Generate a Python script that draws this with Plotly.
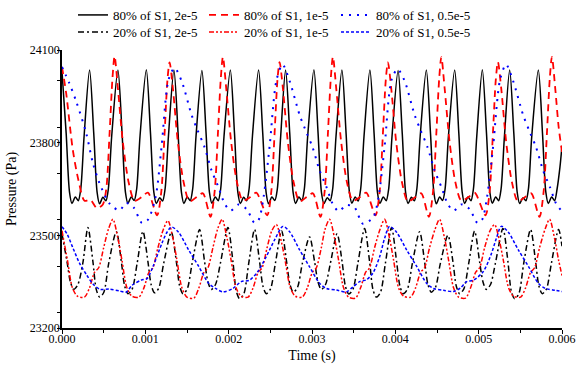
import plotly.graph_objects as go

# ---------------- data (time in ms, pressure in Pa) ----------------
# 80% of S1, 2e-5 (black solid)
bs_t = [0, 0.05, 0.09, 0.12, 0.16, 0.195, 0.225, 0.265,
        0.331, 0.381, 0.421, 0.451, 0.491, 0.526, 0.556, 0.596,
        0.671, 0.721, 0.761, 0.791, 0.831, 0.866, 0.896, 0.936,
        1.012, 1.062, 1.102, 1.132, 1.172, 1.207, 1.237, 1.277,
        1.343, 1.393, 1.433, 1.463, 1.503, 1.538, 1.568, 1.608,
        1.679, 1.729, 1.769, 1.799, 1.839, 1.874, 1.904, 1.944,
        2.020, 2.070, 2.110, 2.140, 2.180, 2.215, 2.245, 2.285,
        2.359, 2.409, 2.449, 2.479, 2.519, 2.554, 2.584, 2.624,
        2.683, 2.733, 2.773, 2.803, 2.843, 2.878, 2.908, 2.948,
        3.023, 3.073, 3.113, 3.143, 3.183, 3.218, 3.248, 3.288,
        3.359, 3.409, 3.449, 3.479, 3.519, 3.554, 3.584, 3.624,
        3.695, 3.745, 3.785, 3.815, 3.855, 3.890, 3.920, 3.960,
        4.033, 4.083, 4.123, 4.153, 4.193, 4.228, 4.258, 4.298,
        4.372, 4.422, 4.462, 4.492, 4.532, 4.567, 4.597, 4.637,
        4.712, 4.762, 4.802, 4.832, 4.872, 4.907, 4.937, 4.977,
        5.044, 5.094, 5.134, 5.164, 5.204, 5.239, 5.269, 5.309,
        5.372, 5.422, 5.462, 5.492, 5.532, 5.567, 5.597, 5.637,
        5.716, 5.766, 5.806, 5.836, 5.876, 5.911, 5.941, 5.975, 6.0]
bs_p = [24030, 23830, 23640, 23603, 23624, 23612, 23650, 23820,
        24035, 23830, 23640, 23602, 23623, 23612, 23650, 23820,
        24035, 23830, 23640, 23604, 23624, 23613, 23650, 23820,
        24036, 23830, 23640, 23603, 23622, 23611, 23650, 23820,
        24035, 23830, 23640, 23603, 23624, 23612, 23650, 23820,
        24034, 23830, 23640, 23604, 23624, 23612, 23650, 23820,
        24035, 23830, 23640, 23603, 23623, 23612, 23650, 23820,
        24035, 23830, 23640, 23602, 23624, 23613, 23650, 23820,
        24035, 23830, 23640, 23603, 23624, 23612, 23650, 23820,
        24036, 23830, 23640, 23603, 23622, 23612, 23650, 23820,
        24035, 23830, 23640, 23604, 23624, 23611, 23650, 23820,
        24035, 23830, 23640, 23603, 23624, 23612, 23650, 23820,
        24034, 23830, 23640, 23603, 23623, 23612, 23650, 23820,
        24035, 23830, 23640, 23602, 23624, 23613, 23650, 23820,
        24035, 23830, 23640, 23603, 23624, 23612, 23650, 23820,
        24036, 23830, 23640, 23604, 23624, 23612, 23650, 23820,
        24035, 23830, 23640, 23603, 23622, 23612, 23650, 23820,
        24035, 23830, 23640, 23603, 23624, 23612, 23650, 23720, 23790]

# 80% of S1, 1e-5 (red dashed)
rd_t = [0, 0.05, 0.13, 0.2, 0.27, 0.34, 0.42, 0.49, 0.531, 0.571, 0.606,
        0.631, 0.671, 0.731, 0.801, 0.871, 0.961, 1.031, 1.141, 1.191, 1.231, 1.266,
        1.291, 1.331, 1.391, 1.461, 1.531, 1.621, 1.691, 1.781, 1.831, 1.871, 1.906,
        1.931, 1.971, 2.031, 2.101, 2.171, 2.261, 2.331, 2.461, 2.511, 2.551, 2.586,
        2.611, 2.651, 2.711, 2.781, 2.851, 2.941, 3.011, 3.101, 3.151, 3.191, 3.226,
        3.251, 3.291, 3.351, 3.421, 3.491, 3.581, 3.651, 3.761, 3.811, 3.851, 3.886,
        3.911, 3.951, 4.011, 4.081, 4.151, 4.241, 4.311, 4.402, 4.452, 4.492, 4.527,
        4.552, 4.592, 4.652, 4.722, 4.792, 4.882, 4.952, 5.081, 5.131, 5.171, 5.206,
        5.231, 5.271, 5.331, 5.401, 5.471, 5.561, 5.631, 5.729, 5.779, 5.819, 5.854,
        5.879, 5.919, 5.96, 6.0]
rd_p = [24045, 23960, 23776, 23675, 23612, 23615, 23588, 23600, 23650, 23830, 24010,
        24080, 23975, 23800, 23670, 23612, 23625, 23638, 23565, 23640, 23830, 24005,
        24060, 23975, 23800, 23670, 23610, 23625, 23636, 23560, 23640, 23830, 24010,
        24078, 23975, 23800, 23670, 23612, 23624, 23638, 23565, 23640, 23830, 24005,
        24061, 23975, 23800, 23670, 23610, 23625, 23636, 23560, 23640, 23830, 24010,
        24078, 23975, 23800, 23670, 23612, 23625, 23638, 23565, 23640, 23830, 24005,
        24060, 23975, 23800, 23670, 23610, 23624, 23636, 23560, 23640, 23830, 24010,
        24077, 23975, 23800, 23670, 23612, 23625, 23638, 23565, 23640, 23830, 24005,
        24061, 23975, 23800, 23670, 23610, 23625, 23636, 23560, 23640, 23830, 24010,
        24078, 23975, 23850, 23770]

# 80% of S1, 0.5e-5 (blue dotted)
bu_t = [0, 0.084, 0.17, 0.29, 0.37, 0.45, 0.57, 0.69, 0.77, 0.86, 0.96, 1.03, 1.123, 1.195, 1.279,
        1.351, 1.435, 1.555, 1.627, 1.711, 1.795, 1.879, 1.951, 2.023, 2.119, 2.215, 2.311, 2.36, 2.419, 2.491, 2.575,
        2.647, 2.731, 2.851, 2.923, 3.007, 3.091, 3.175, 3.247, 3.319, 3.415, 3.511, 3.607, 3.679, 3.74, 3.799, 3.871, 3.955,
        4.027, 4.111, 4.231, 4.303, 4.387, 4.471, 4.555, 4.627, 4.699, 4.795, 4.891, 4.987, 5.04, 5.101, 5.173, 5.257,
        5.329, 5.413, 5.533, 5.605, 5.689, 5.773, 5.857, 5.929, 6.0]
bu_p = [24045, 23995, 23934, 23831, 23735, 23669, 23603, 23581, 23605, 23590, 23540, 23550, 23624, 23787, 24004,
        24042, 24000, 23890, 23840, 23785, 23710, 23655, 23603, 23580, 23600, 23585, 23540, 23550, 23624, 23787, 24004,
        24053, 24000, 23890, 23840, 23785, 23710, 23655, 23603, 23578, 23598, 23590, 23538, 23545, 23560, 23624, 23787, 24004,
        24038, 24000, 23890, 23840, 23785, 23710, 23655, 23603, 23580, 23600, 23585, 23540, 23550, 23624, 23787, 24004,
        24053, 24000, 23890, 23840, 23785, 23710, 23655, 23603, 23578]

# 20% of S1, 2e-5 (black dash-dot)
bd_t = [0, 0.06, 0.1, 0.14, 0.19, 0.25,
        0.311, 0.371, 0.411, 0.451, 0.501, 0.561,
        0.652, 0.712, 0.752, 0.792, 0.842, 0.902,
        0.971, 1.031, 1.071, 1.111, 1.161, 1.221,
        1.312, 1.372, 1.412, 1.452, 1.502, 1.562,
        1.651, 1.711, 1.751, 1.791, 1.841, 1.901,
        1.991, 2.051, 2.091, 2.131, 2.181, 2.241,
        2.311, 2.371, 2.411, 2.451, 2.501, 2.561,
        2.635, 2.695, 2.735, 2.775, 2.825, 2.885,
        2.971, 3.031, 3.071, 3.111, 3.161, 3.221,
        3.301, 3.361, 3.401, 3.441, 3.491, 3.551,
        3.631, 3.691, 3.731, 3.771, 3.821, 3.881,
        3.955, 4.015, 4.055, 4.095, 4.145, 4.205,
        4.291, 4.351, 4.391, 4.431, 4.481, 4.541,
        4.631, 4.691, 4.731, 4.771, 4.821, 4.881,
        4.951, 5.011, 5.051, 5.091, 5.141, 5.201,
        5.291, 5.351, 5.391, 5.431, 5.481, 5.541,
        5.623, 5.683, 5.723, 5.763, 5.813, 5.873,
        5.959, 6.0]
bd_p = [23505, 23415, 23350, 23325, 23340, 23410,
        23525, 23415, 23325, 23300, 23315, 23410,
        23512, 23415, 23336, 23311, 23326, 23410,
        23513, 23415, 23339, 23314, 23329, 23410,
        23510, 23415, 23336, 23311, 23326, 23410,
        23519, 23415, 23350, 23325, 23340, 23410,
        23525, 23415, 23320, 23295, 23310, 23410,
        23519, 23415, 23336, 23311, 23326, 23410,
        23515, 23415, 23341, 23316, 23331, 23410,
        23495, 23415, 23350, 23325, 23340, 23410,
        23505, 23415, 23335, 23310, 23325, 23410,
        23522, 23415, 23325, 23300, 23315, 23410,
        23525, 23415, 23336, 23311, 23326, 23410,
        23512, 23415, 23341, 23316, 23331, 23410,
        23500, 23415, 23336, 23311, 23326, 23410,
        23514, 23415, 23350, 23325, 23340, 23410,
        23522, 23415, 23320, 23295, 23310, 23410,
        23519, 23415, 23336, 23311, 23326, 23410,
        23519, 23465]

# 20% of S1, 1e-5 (red dash-dot-dot)
rdd_t = [0, 0.065, 0.125, 0.185, 0.27, 0.33, 0.39, 0.44, 0.5, 0.557,
         0.611, 0.671, 0.719, 0.779, 0.839, 0.923, 0.983, 1.043, 1.091, 1.151, 1.217,
         1.271, 1.331, 1.379, 1.439, 1.499, 1.583, 1.643, 1.703, 1.751, 1.811, 1.867,
         1.921, 1.981, 2.029, 2.089, 2.149, 2.233, 2.293, 2.353, 2.401, 2.461, 2.518,
         2.572, 2.632, 2.68, 2.74, 2.8, 2.884, 2.944, 3.004, 3.052, 3.112, 3.157,
         3.211, 3.271, 3.319, 3.379, 3.439, 3.523, 3.583, 3.643, 3.691, 3.751, 3.817,
         3.871, 3.931, 3.979, 4.039, 4.099, 4.183, 4.243, 4.303, 4.351, 4.411, 4.477,
         4.531, 4.591, 4.639, 4.699, 4.759, 4.843, 4.903, 4.963, 5.011, 5.071, 5.137,
         5.191, 5.251, 5.299, 5.359, 5.419, 5.503, 5.563, 5.623, 5.671, 5.731, 5.797,
         5.851, 5.911, 5.959, 6.0]
rdd_p = [23515, 23420, 23330, 23303, 23300, 23330, 23380, 23395, 23460, 23520,
         23552, 23490, 23420, 23330, 23303, 23300, 23330, 23380, 23395, 23460, 23520,
         23548, 23490, 23420, 23330, 23300, 23297, 23330, 23380, 23395, 23460, 23520,
         23552, 23490, 23420, 23330, 23303, 23300, 23330, 23380, 23395, 23460, 23515,
         23535, 23480, 23415, 23330, 23303, 23300, 23330, 23380, 23395, 23460, 23520,
         23552, 23490, 23420, 23330, 23300, 23297, 23330, 23380, 23395, 23460, 23520,
         23552, 23490, 23420, 23330, 23303, 23300, 23330, 23380, 23395, 23460, 23520,
         23552, 23490, 23420, 23330, 23300, 23297, 23330, 23380, 23395, 23460, 23515,
         23535, 23480, 23415, 23330, 23303, 23300, 23330, 23380, 23395, 23460, 23520,
         23552, 23490, 23420, 23370]

# 20% of S1, 0.5e-5 (blue short dash)
bl_t = [0, 0.06, 0.13, 0.21, 0.3, 0.38, 0.46, 0.57, 0.69, 0.77, 0.84, 0.95, 1.02, 1.09, 1.2, 1.26,
        1.315, 1.399, 1.519, 1.639, 1.759, 1.843, 1.931, 2.051, 2.151, 2.251, 2.351, 2.451, 2.551,
        2.651, 2.731, 2.851, 2.971, 3.091, 3.172, 3.292, 3.412, 3.492, 3.571, 3.652, 3.731, 3.811, 3.871,
        3.931, 4.015, 4.135, 4.255, 4.375, 4.459, 4.579, 4.699, 4.783, 4.855, 4.939, 5.056, 5.152, 5.212,
        5.272, 5.356, 5.476, 5.596, 5.716, 5.8, 5.92, 6.0]
bl_p = [23528, 23505, 23460, 23410, 23370, 23340, 23325, 23326, 23320, 23316, 23338, 23355, 23360, 23398, 23475, 23510,
        23527, 23510, 23453, 23400, 23345, 23328, 23317, 23328, 23350, 23355, 23383, 23431, 23485,
        23529, 23512, 23453, 23398, 23345, 23328, 23323, 23317, 23333, 23350, 23356, 23378, 23430, 23490,
        23529, 23510, 23453, 23400, 23345, 23328, 23322, 23318, 23330, 23350, 23355, 23383, 23440, 23490,
        23529, 23510, 23453, 23400, 23345, 23328, 23322, 23318]

# ---------------- figure ----------------
FONT = "Liberation Serif"


def sec(ms_list):
    return [v / 1000.0 for v in ms_list]


series = [
    ("80% of S1, 2e-5", bs_t, bs_p, "#000000", 1.5, "solid", "legend"),
    ("80% of S1, 1e-5", rd_t, rd_p, "#ff0000", 1.8, "7px,5px", "legend2"),
    ("80% of S1, 0.5e-5", bu_t, bu_p, "#0000ff", 2.0, "2px,6px", "legend3"),
    ("20% of S1, 2e-5", bd_t, bd_p, "#000000", 1.5, "6px,3px,2px,3px", "legend4"),
    ("20% of S1, 1e-5", rdd_t, rdd_p, "#ff0000", 1.5, "5px,2px,2px,2px,2px,2px", "legend5"),
    ("20% of S1, 0.5e-5", bl_t, bl_p, "#0000ff", 1.5, "3px,2px", "legend6"),
]

fig = go.Figure()
for name, t, p, col, w, dash, leg in series:
    fig.add_trace(go.Scatter(
        x=sec(t), y=p, mode="lines", name=name, legend=leg,
        line=dict(color=col, width=w, dash=dash, shape="spline", smoothing=0.8),
    ))

legend_common = dict(
    orientation="h", xanchor="left", yanchor="middle",
    font=dict(family=FONT, size=13, color="#000"),
    bgcolor="rgba(0,0,0,0)", itemwidth=30,
)
col_x = [0.022, 0.284, 0.548]
row_y = [1.126, 1.065]

fig.update_layout(
    width=581, height=370,
    margin=dict(l=62, r=19, t=50, b=42, autoexpand=False),
    paper_bgcolor="white", plot_bgcolor="white",
    font=dict(family=FONT, size=12, color="#000"),
    showlegend=True,
    legend=dict(x=col_x[0], y=row_y[0], **legend_common),
    legend2=dict(x=col_x[1], y=row_y[0], **legend_common),
    legend3=dict(x=col_x[2], y=row_y[0], **legend_common),
    legend4=dict(x=col_x[0], y=row_y[1], **legend_common),
    legend5=dict(x=col_x[1], y=row_y[1], **legend_common),
    legend6=dict(x=col_x[2], y=row_y[1], **legend_common),
    xaxis=dict(
        range=[0, 0.006], dtick=0.001, tick0=0, tickformat=".3f", automargin=False,
        showline=True, linecolor="black", linewidth=1.5, mirror=False,
        ticks="outside", ticklen=4, tickwidth=1, tickcolor="black",
        ticklabelstandoff=-5,
        showgrid=False, zeroline=False,
        minor=dict(dtick=0.0005, ticks="outside", ticklen=3, tickcolor="black", showgrid=False),
        title=dict(text="Time (s)", font=dict(family=FONT, size=14), standoff=5),
        tickfont=dict(family=FONT, size=12),
    ),
    yaxis=dict(
        range=[23200, 24100], dtick=300, tick0=23200, tickformat="d", automargin=False,
        showline=True, linecolor="black", linewidth=1.5, mirror=False,
        ticks="outside", ticklen=3, tickwidth=1, tickcolor="black",
        ticklabelstandoff=-5,
        showgrid=False, zeroline=False,
        minor=dict(dtick=150, ticks="outside", ticklen=3, tickcolor="black", showgrid=False),
        title=dict(text="Pressure (Pa)", font=dict(family=FONT, size=14), standoff=10),
        tickfont=dict(family=FONT, size=12),
    ),
)

fig.write_html("out.html", config={"displayModeBar": False},
               post_script="document.body.style.margin='0px';")
